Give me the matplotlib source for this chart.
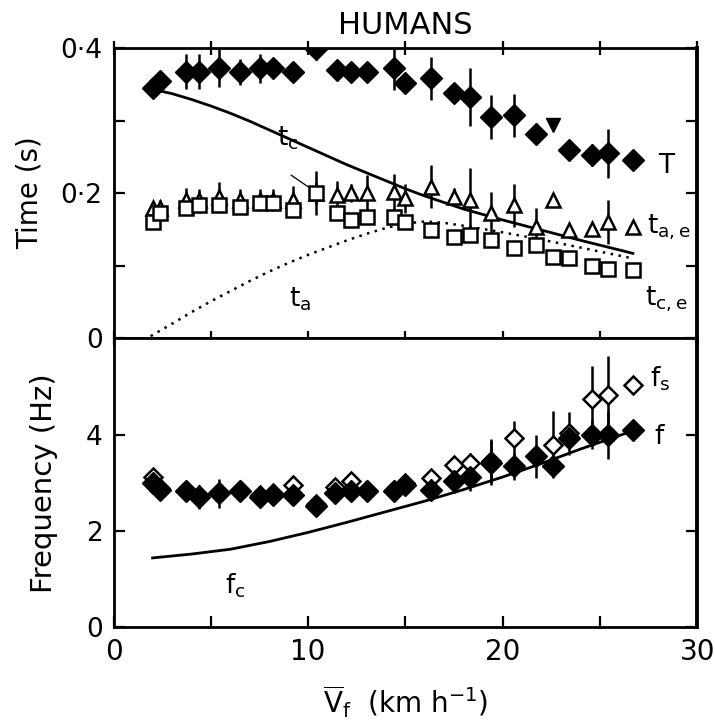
"""Stride timing and frequency against mean forward speed (humans)."""

import matplotlib.pyplot as plt
from matplotlib.ticker import FixedLocator, FixedFormatter

plt.rcParams["font.family"] = "DejaVu Sans"
plt.rcParams["mathtext.fontset"] = "dejavusans"

# --- upper panel: times (s) ---
speed = [2.0, 2.4, 3.7, 4.4, 5.4, 6.5, 7.5, 8.2, 9.2, 10.4, 11.5, 12.2, 13.0,
         14.4, 15.0, 16.3, 17.5, 18.3, 19.4, 20.6, 21.7, 22.6, 23.4, 24.6,
         25.4, 26.7]

# stride period T (no diamond at 22.6, a triangle there instead)
T_speed = [v for v in speed if v != 22.6]
T = [0.345, 0.355, 0.367, 0.367, 0.372, 0.367, 0.372, 0.372, 0.367, 0.398,
     0.370, 0.367, 0.367, 0.372, 0.351, 0.358, 0.338, 0.333, 0.305, 0.307,
     0.282, 0.259, 0.252, 0.255, 0.245]
T_err = [0, 0, 0.024, 0.024, 0.026, 0.018, 0.020, 0.010, 0, 0.015, 0, 0, 0,
         0.030, 0, 0.030, 0.010, 0.040, 0.030, 0.030, 0.015, 0, 0.015, 0.034, 0]
T_odd_speed = [22.6]
T_odd = [0.294]

t_ae = [0.179, 0.180, 0.190, 0.190, 0.195, 0.190, 0.190, 0.190, 0.190, 0.200,
        0.197, 0.200, 0.200, 0.202, 0.193, 0.209, 0.195, 0.190, 0.172, 0.183,
        0.154, 0.190, 0.149, 0.151, 0.160, 0.154]
t_ae_err = [0, 0.010, 0.017, 0.015, 0.020, 0.015, 0.015, 0.015, 0.020, 0.030,
            0.020, 0.012, 0.025, 0.025, 0.020, 0.030, 0.012, 0.045, 0.030,
            0.030, 0.025, 0, 0, 0, 0.030, 0]
t_ce = [0.160, 0.172, 0.179, 0.183, 0.183, 0.181, 0.186, 0.186, 0.177, 0.200,
        0.172, 0.163, 0.167, 0.167, 0.160, 0.149, 0.140, 0.142, 0.135, 0.124,
        0.128, 0.112, 0.110, 0.100, 0.096, 0.094]
t_ce_err = [0, 0, 0.008, 0.010, 0.008, 0.008, 0.006, 0.008, 0.008, 0.015, 0,
            0, 0, 0, 0.006, 0, 0, 0.006, 0, 0, 0.008, 0, 0, 0.006, 0, 0]

# model curves
tc_speed = [2, 3, 4, 5, 6, 7, 8, 9, 10, 11, 12, 13, 14, 15, 16, 17, 18, 20,
            22, 24, 26.7]
tc_curve = [0.343, 0.337, 0.329, 0.320, 0.310, 0.299, 0.287, 0.275, 0.263,
            0.251, 0.239, 0.228, 0.217, 0.206, 0.196, 0.187, 0.178, 0.163,
            0.149, 0.135, 0.117]
ta_speed = [1.9, 3, 4, 5, 6, 7, 8, 9, 10, 11, 12, 13, 14, 15, 16, 17, 18, 20,
            22, 24, 26.7]
ta_curve = [0.003, 0.020, 0.036, 0.051, 0.065, 0.079, 0.092, 0.104, 0.115,
            0.125, 0.135, 0.144, 0.152, 0.158, 0.161, 0.159, 0.155, 0.146,
            0.136, 0.125, 0.110]

# --- lower panel: frequency (Hz) ---
f_speed = [2.0, 2.4, 3.7, 4.4, 5.4, 6.5, 7.5, 8.2, 9.2, 10.4, 11.4, 12.2, 13.0,
           14.4, 15.0, 16.3, 17.5, 18.3, 19.4, 20.6, 21.7, 22.6, 23.4, 24.6,
           25.4, 26.7]
f = [2.99, 2.85, 2.82, 2.71, 2.78, 2.82, 2.71, 2.75, 2.75, 2.51, 2.79, 2.82,
     2.82, 2.82, 2.96, 2.85, 3.03, 3.13, 3.41, 3.34, 3.55, 3.34, 3.93, 4.00,
     4.00, 4.10]
f_err = [0, 0, 0.15, 0.25, 0.30, 0.10, 0.15, 0.10, 0.10, 0, 0.10, 0, 0, 0.20,
         0.15, 0.20, 0.25, 0.30, 0.45, 0.28, 0.45, 0, 0.20, 0.30, 0.50, 0]
fs = [3.13, 2.90, 2.85, 2.75, 2.80, 2.85, 2.75, 2.78, 2.96, 2.55, 2.92, 3.03,
      2.85, 2.85, 3.00, 3.10, 3.375, 3.41, 3.45, 3.93, 3.55, 3.79, 4.03, 4.73,
      4.83, 5.04]
fs_err = [0, 0, 0, 0, 0, 0, 0, 0, 0, 0, 0, 0, 0, 0, 0, 0.10, 0.15, 0.20, 0.45,
          0.35, 0.20, 0.70, 0.45, 0.70, 0.80, 0]
fc_speed = [2, 4, 6, 8, 10, 12, 14, 16, 18, 20, 22, 24, 26.7]
fc_curve = [1.44, 1.52, 1.62, 1.78, 1.97, 2.18, 2.40, 2.62, 2.86, 3.12, 3.40,
            3.70, 4.08]

fig = plt.figure(figsize=(7.15, 7.26), dpi=100)
ax1 = fig.add_axes([0.159, 0.534, 0.816, 0.400])
ax2 = fig.add_axes([0.159, 0.136, 0.816, 0.398], sharex=ax1)

eb = dict(fmt="none", ecolor="black", elinewidth=1.8, capsize=0, zorder=2)
lab = dict(fontsize=19)

# upper panel
ax1.plot(tc_speed, tc_curve, color="black", lw=2.0, zorder=1)
ax1.plot(ta_speed, ta_curve, color="black", lw=1.8, ls=(0, (1, 2.2)), zorder=1)
ax1.errorbar(T_speed, T, yerr=T_err, **eb)
ax1.errorbar(speed, t_ae, yerr=t_ae_err, **eb)
ax1.errorbar(speed, t_ce, yerr=t_ce_err, **eb)
ax1.plot(speed, t_ae, ls="none", marker="^", ms=9.5, mfc="white", mec="black",
         mew=1.8, zorder=3)
ax1.plot(speed, t_ce, ls="none", marker="s", ms=9.5, mfc="white", mec="black",
         mew=1.8, zorder=4)
ax1.plot(T_speed, T, ls="none", marker="D", ms=11.5, color="black", zorder=5)
ax1.plot(T_odd_speed, T_odd, ls="none", marker="v", ms=10, color="black",
         zorder=5)
ax1.annotate("", xy=(10.2, 0.205), xytext=(9.0, 0.227),
             arrowprops=dict(arrowstyle="-", color="black", lw=0.9))

ax1.text(8.4, 0.266, r"$\mathregular{t_c}$", **lab)
ax1.text(9.0, 0.044, r"$\mathregular{t_a}$", **lab)
ax1.text(28.0, 0.228, "T", **lab)
ax1.text(27.4, 0.145, r"$\mathregular{t_{a,e}}$", **lab)
ax1.text(27.3, 0.045, r"$\mathregular{t_{c,e}}$", **lab)

ax1.set_ylim(0, 0.4)
ax1.set_xlim(0, 30)
ax1.yaxis.set_major_locator(FixedLocator([0, 0.1, 0.2, 0.3, 0.4]))
ax1.yaxis.set_major_formatter(FixedFormatter(["0", "", "0·2", "", "0·4"]))
ax1.set_ylabel("Time (s)", fontsize=20, labelpad=12)
ax1.set_title("HUMANS", fontsize=22, pad=10)
ax1.tick_params(axis="x", which="both", direction="inout", length=10,
                width=1.6, top=True, labelbottom=False)
ax1.tick_params(axis="y", direction="in", length=8, width=1.6, right=True,
                labelsize=19, pad=8)

# lower panel
ax2.plot(fc_speed, fc_curve, color="black", lw=2.0, zorder=1)
ax2.errorbar(f_speed, fs, yerr=fs_err, **eb)
ax2.errorbar(f_speed, f, yerr=f_err, **eb)
ax2.plot(f_speed, fs, ls="none", marker="D", ms=9, mfc="white", mec="black",
         mew=1.8, zorder=3)
ax2.plot(f_speed, f, ls="none", marker="D", ms=11.5, color="black", zorder=4)

ax2.text(5.7, 0.7, r"$\mathregular{f_c}$", **lab)
ax2.text(27.6, 5.0, r"$\mathregular{f_s}$", **lab)
ax2.text(27.8, 3.8, "f", **lab)

ax2.set_ylim(0, 6)
ax2.yaxis.set_major_locator(FixedLocator([0, 2, 4]))
ax2.xaxis.set_major_locator(FixedLocator([0, 5, 10, 15, 20, 25, 30]))
ax2.xaxis.set_major_formatter(FixedFormatter(["0", "", "10", "", "20", "",
                                              "30"]))
ax2.set_ylabel("Frequency (Hz)", fontsize=21, labelpad=20)
ax2.set_xlabel(r"$\mathregular{\overline{V}_f}$  (km h$^{\mathregular{-1}}$)",
               fontsize=20, labelpad=12)
ax2.tick_params(axis="x", direction="in", length=8, width=1.6,
                labelsize=20, pad=8)
ax2.tick_params(axis="y", direction="in", length=8, width=1.6, right=True,
                labelsize=19, pad=8)

for ax in (ax1, ax2):
    for side in ("left", "top", "bottom"):
        ax.spines[side].set_linewidth(2.0)
    ax.spines["right"].set_linewidth(2.8)

fig.savefig("out.png", dpi=100)
plt.close(fig)
